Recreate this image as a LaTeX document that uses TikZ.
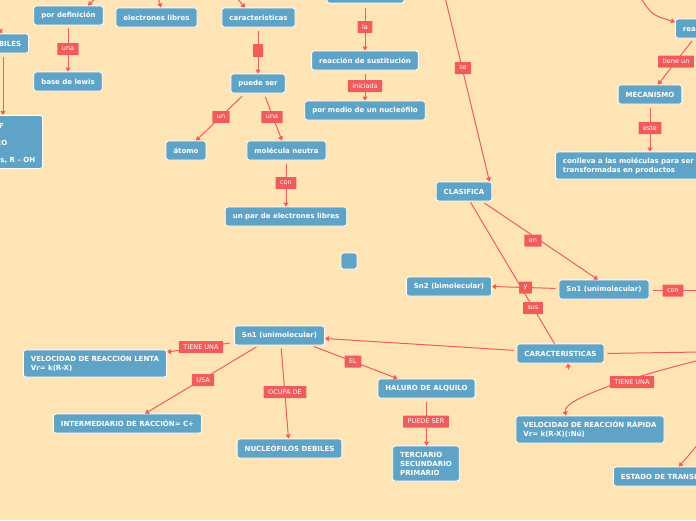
\documentclass[tikz,border=0pt]{standalone}
\usepackage{fontspec}
\setmainfont{DejaVu Sans}
\usetikzlibrary{arrows.meta}
\definecolor{bg}{HTML}{FFE5B5}
\definecolor{bx}{HTML}{5FA4C7}
\definecolor{rd}{HTML}{F05B5B}
\tikzset{
 box/.style={draw=white, line width=0.8pt, fill=bx, rounded corners=2.5pt, text=white,
   font=\fontsize{7}{9}\selectfont\bfseries, inner xsep=7.5pt, inner ysep=0pt,
   minimum height=19pt, align=left},
 frag/.style={text=white, font=\fontsize{7}{9}\selectfont\bfseries, inner sep=0pt},
 lbl/.style={fill=rd, text=white, font=\fontsize{6.5}{7}\selectfont, inner xsep=4.5pt,
   inner ysep=0pt, minimum height=12pt, rounded corners=0.5pt},
 conn/.style={draw=rd, line width=1pt},
 arr/.style={conn, -{Triangle[width=5pt,length=4pt]}},
}
\begin{document}
\begin{tikzpicture}[x=1pt,y=-1pt]
\useasboundingbox (0,0) rectangle (696,520);
\fill[bg] (0,0) rectangle (696,520);

% ---------- boxes ----------
\node[box] (pordef) at (68.5,15.5) {por definición};
\node[box, anchor=east, text width=50pt, align=right] (biles) at (29,43.5) {BILES};
\node[box] (base) at (68,81.5) {base de lewis};
\node[box, anchor=north east, minimum width=90pt, minimum height=53pt] (lb) at (43,115) {};
\node[frag, anchor=east] (lbf) at (4,125.5) {F};
\node[frag, anchor=east] (lbo) at (7.5,143) {H2O};
\node[frag, anchor=east] (lbr) at (35.5,160.5) {alcoholes, R – OH};
\node[box] (eleclib) at (156.5,17.5) {electrones libres};
\node[box] (caract) at (258.5,17.5) {caracteristicas};
\node[box] (puede) at (258,83.5) {puede ser};
\node[box] (atomo) at (186,150.5) {átomo};
\node[box] (molec) at (286.5,150.5) {molécula neutra};
\node[box] (unpar) at (286,216.5) {un par de electrones libres};
\node[box, minimum width=16pt, minimum height=16pt, inner sep=0pt] (sq) at (349,261) {};
\node[box, minimum width=77pt, anchor=south] (topbox) at (365.5,3.5) {};
\node[box] (reacc) at (365,60.5) {reacción de sustitución};
\node[box] (pormedio) at (365,110.5) {por medio de un nucleófilo};
\node[box] (clasif) at (464,191.5) {CLASIFICA};
\node[box, anchor=west] (rea) at (675,28.5) {reacción};
\node[box] (mecan) at (650,94.5) {MECANISMO};
\node[box, anchor=west, minimum height=27pt] (conlleva) at (555,165.5) {conlleva a las moléculas para ser\\transformadas en productos};
\node[box] (sn1r) at (604,289.5) {Sn1 (unimolecular)};
\node[box] (sn2) at (449,286.5) {Sn2 (bimolecular)};
\node[box] (caracs) at (560.5,353.5) {CARACTERISTICAS};
\node[box] (sn1l) at (279.5,335.5) {Sn1 (unimolecular)};
\node[box, minimum height=27pt] (vellenta) at (95,363.5) {VELOCIDAD DE REACCIÓN LENTA\\Vr= k(R-X)};
\node[box] (interm) at (127.5,423.5) {INTERMEDIARIO DE RACCIÓN= C+};
\node[box] (nucdeb) at (289.5,448.5) {NUCLEÓFILOS DEBILES};
\node[box] (haluro) at (426.5,388.5) {HALURO DE ALQUILO};
\node[box, minimum height=35pt] (terc) at (426,463.5) {TERCIARIO\\SECUNDARIO\\PRIMARIO};
\node[box, minimum height=27pt] (velrap) at (590,429.5) {VELOCIDAD DE REACCIÓN RÁPIDA\\Vr= k(R-X)(:Nú)};
\node[box, anchor=west] (estado) at (613,476.5) {ESTADO DE TRANSICIÓN};

% ---------- free ends ----------
\coordinate (c1) at (97,-3);
\coordinate (c2) at (-6,18);
\coordinate (c3) at (158,-3);
\coordinate (c4) at (236,-3);
\coordinate (c5) at (445,-3);
\coordinate (c6) at (640,-3);
\coordinate (c7) at (702,290.5);
\coordinate (c8) at (700,352);
\coordinate (c9) at (700,360);
\coordinate (c10) at (700,442);
\coordinate (c11) at (568.5,369.5);

% ---------- connectors ----------
\draw[arr] (c1) -- ([xshift=19.5pt]pordef.north);
\draw[arr, shorten <=3pt] ([xshift=-0.5pt]pordef.south) -- (base.north);
\draw[arr] (c2) -- ([xshift=-27pt]biles.north east);
\draw[arr, shorten <=4pt] ([xshift=-26pt]biles.south east) -- ([xshift=-40pt]lb.north east);
\draw[arr] (c3) -- ([xshift=4.5pt]eleclib.north);
\draw[arr] (c4) -- ([xshift=-13.5pt]caract.north);
\draw[arr, shorten <=4pt] ([xshift=-0.5pt]caract.south) -- (puede.north);
\draw[arr, shorten <=4pt] ([xshift=-13pt]puede.south) -- ([xshift=10pt]atomo.north);
\draw[arr, shorten <=4pt] ([xshift=6pt]puede.south) -- ([xshift=-4.5pt]molec.north);
\draw[arr, shorten <=4pt] ([xshift=-0.5pt]molec.south) -- (unpar.north);
\draw[arr, shorten <=4pt] ([xshift=-0.5pt]topbox.south) -- (reacc.north);
\draw[arr, shorten <=4pt] (reacc.south) -- (pormedio.north);
\draw[arr] (c5) -- ([xshift=25.5pt]clasif.north);
\draw[arr] (c6) .. controls (652,15) .. ([yshift=6.5pt]rea.west);
\draw[arr, shorten <=3pt] ([xshift=19pt]rea.south west) -- ([xshift=8pt]mecan.north);
\draw[arr, shorten <=4pt] (mecan.south) -- (mecan.south |- conlleva.north);
\draw[arr, shorten <=3pt] ([xshift=18pt]clasif.south) -- ([xshift=-6pt]sn1r.north);
\draw[conn, shorten <=1pt] ([xshift=6pt]clasif.south) -- ([xshift=-6pt]caracs.north);
\draw[arr, shorten <=3pt] ([yshift=1pt]sn1r.west) -- (sn2.east);
\draw[arr, shorten <=4pt] ([yshift=-1pt]sn1r.east) -- (c7);
\draw[arr, shorten <=3pt] ([yshift=3pt]caracs.west) -- ([yshift=-3pt]sn1l.east);
\draw[conn, shorten <=3pt] (caracs.east) -- (c8);
\draw[arr] (c9) .. controls (640,375) and (562,398) .. ([xshift=-24pt]velrap.north);
\draw[arr] (c10) -- ([xshift=66pt]estado.north west);
\draw[arr] (c11) -- ([xshift=7.5pt]caracs.south);
\draw[arr, shorten <=4pt] ([yshift=-7pt]sn1l.west) -- ([yshift=11.5pt]vellenta.east);
\draw[arr, shorten <=3pt] ([xshift=-20.5pt]sn1l.south) -- ([xshift=17.5pt]interm.north);
\draw[arr, shorten <=3pt] ([xshift=1.5pt]sn1l.south) -- ([xshift=-1pt]nucdeb.north);
\draw[arr, shorten <=3pt] ([xshift=31.5pt]sn1l.south) -- ([xshift=-29pt]haluro.north);
\draw[arr, shorten <=4pt] (haluro.south) -- (haluro.south |- terc.north);

% ---------- labels ----------
\node[lbl] (l1) at (68,49) {una};
\node[lbl, minimum width=10pt, minimum height=13pt, inner sep=0pt] (l2) at (258,50.5) {};
\node[lbl] (l3) at (221,117) {un};
\node[lbl] (l4) at (272,117) {una};
\node[lbl] (l5) at (286,183) {con};
\node[lbl] (l6) at (365,27) {la};
\node[lbl] (l7) at (365,86) {iniciada};
\node[lbl] (l8) at (463,68) {se};
\node[lbl] (l9) at (676,61.5) {tiene un};
\node[lbl] (l10) at (650,128) {este};
\node[lbl] (l11) at (533,240.5) {en};
\node[lbl] (l12) at (525.5,287.5) {y};
\node[lbl] (l13) at (533,308) {sus};
\node[lbl] (l14) at (673,290.5) {con};
\node[lbl] (l15) at (201,347) {TIENE UNA};
\node[lbl] (l16) at (203,380) {USA};
\node[lbl] (l17) at (285,392) {OCUPA DE};
\node[lbl] (l18) at (353,361.5) {EL};
\node[lbl] (l19) at (426,421.5) {PUEDE SER};
\node[lbl] (l20) at (632,382) {TIENE UNA};
\end{tikzpicture}
\end{document}
